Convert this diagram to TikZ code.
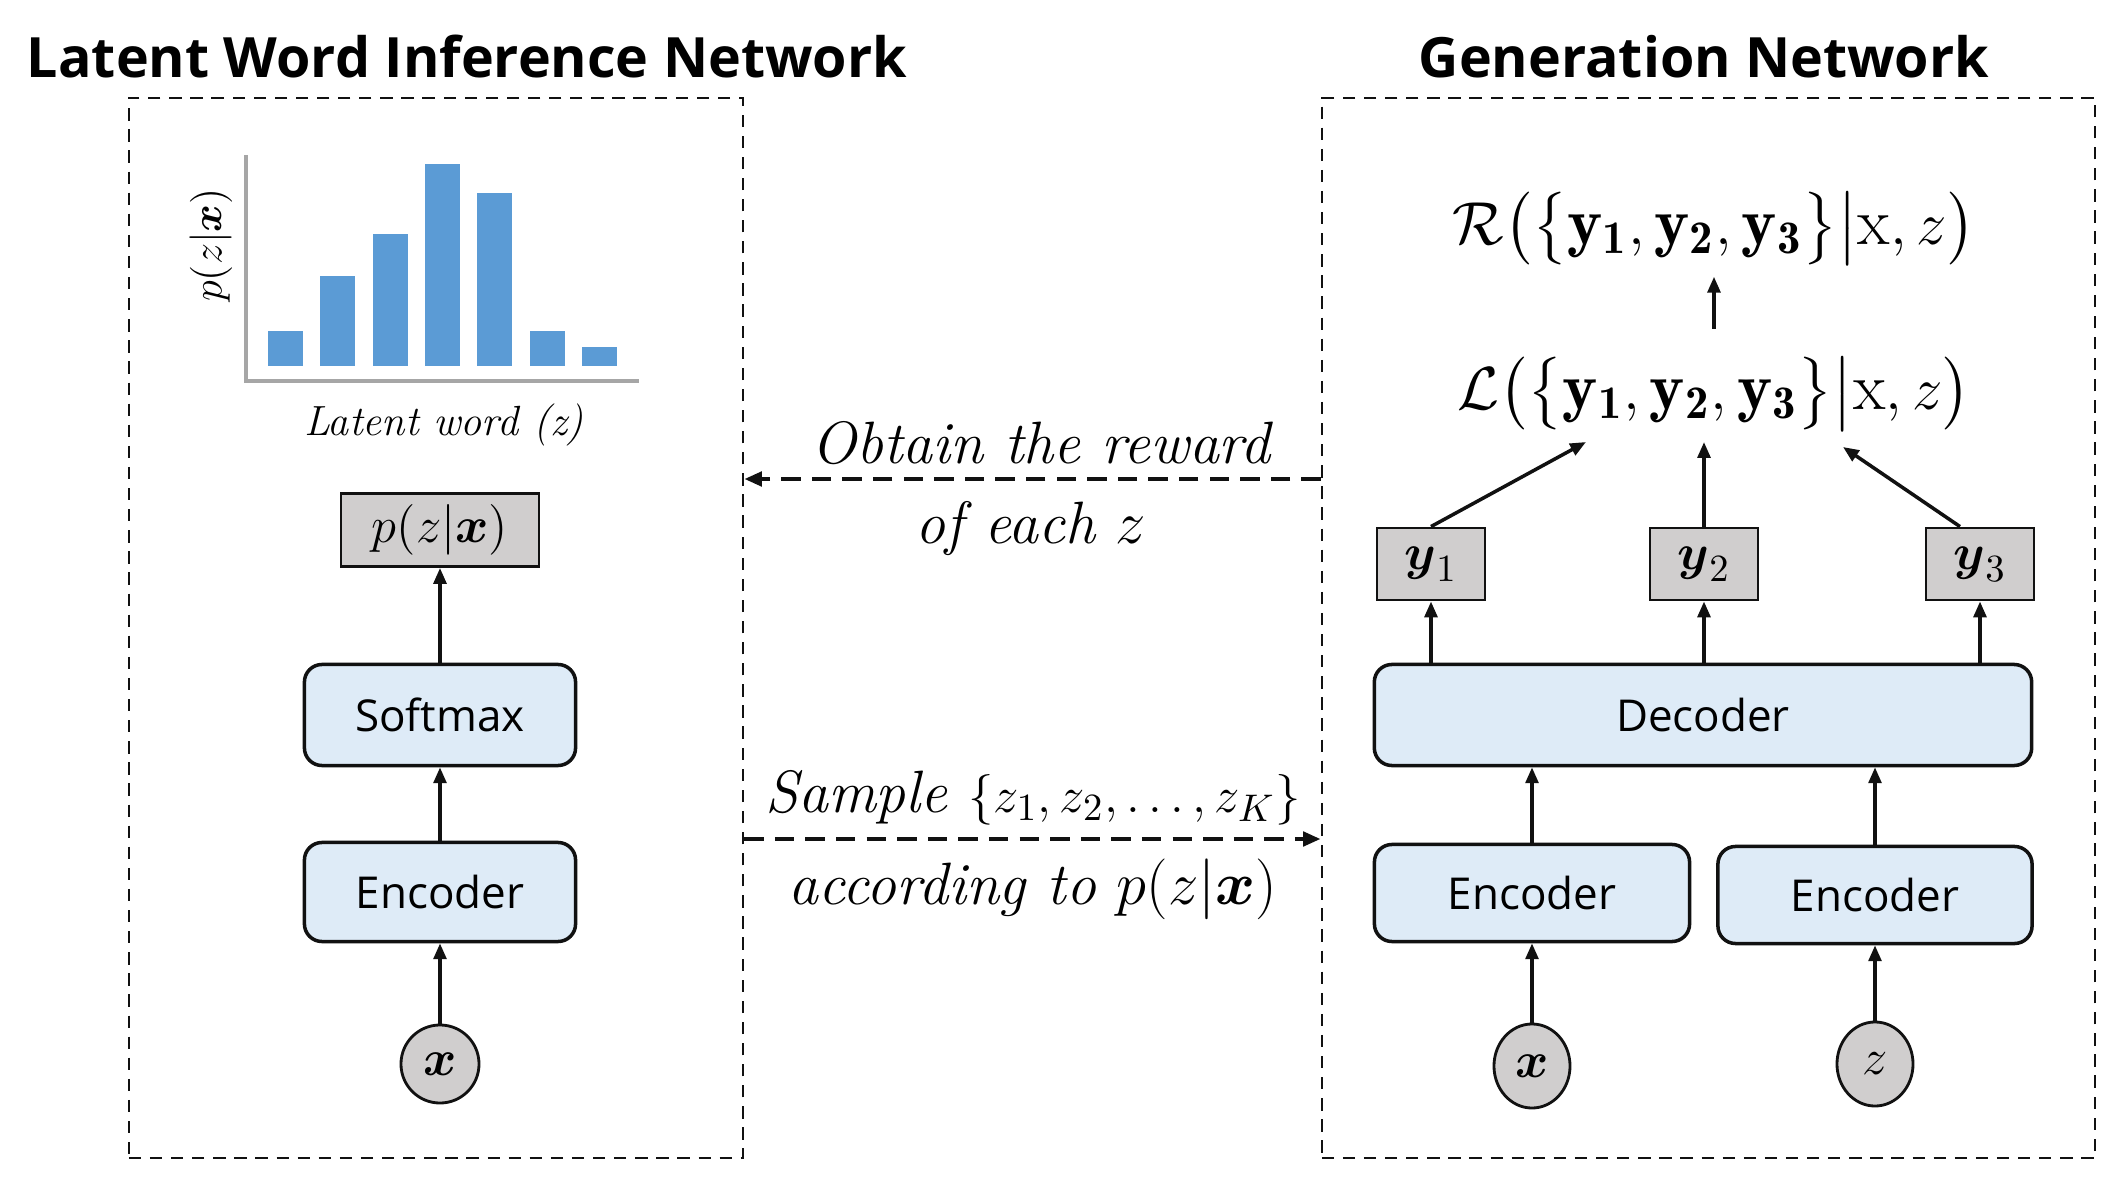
\documentclass[tikz,border=0pt]{standalone}
\usepackage{amsmath}
\usepackage{fontspec}
\setsansfont{Open Sans}
\usetikzlibrary{arrows.meta,positioning,calc,shapes.geometric}
\definecolor{wdbar}{HTML}{5B9BD5}
\definecolor{wdfill}{HTML}{DEEBF7}
\definecolor{wdgray}{HTML}{D0CECE}
\definecolor{wdaxis}{HTML}{A6A6A6}
\definecolor{wdink}{HTML}{111111}
\tikzset{
  panel/.style={draw=wdink, dash pattern=on 3.5pt off 2.5pt, line width=0.6pt, inner sep=0pt},
  ttl/.style={font=\sffamily\bfseries\fontsize{15.8}{18}\selectfont},
  blk/.style={draw=wdink, fill=wdfill, rounded corners=5pt, line width=1pt, inner sep=0pt, font=\sffamily\fontsize{12.5}{15}\selectfont},
  outb/.style={draw=wdink, fill=wdgray, line width=0.8pt, inner sep=0pt, font=\fontsize{15}{18}\selectfont},
  var/.style={draw=wdink, fill=wdgray, ellipse, line width=0.8pt, inner sep=0pt, font=\fontsize{15}{18}\selectfont},
  note/.style={font=\itshape\fontsize{17}{20}\selectfont},
  fun/.style={font=\fontsize{19}{22}\selectfont, inner sep=0pt},
  arr/.style={-{Triangle[length=4.5pt,width=3.6pt]}, line width=1pt, color=wdink},
  darr/.style={-{Triangle[length=5pt,width=4pt]}, line width=1.3pt, dash pattern=on 5.5pt off 3.2pt, color=wdink},
}
\begin{document}
\begin{tikzpicture}[x=0.01cm,y=-0.01cm]
  \useasboundingbox (0,0) rectangle (2111,1182);
  % titles and panels
  \node[ttl] (ltitle) at (467,57) {Latent Word Inference Network};
  \node[ttl] (rtitle) at (1704,57) {Generation Network};
  \node[panel, minimum width=6.14cm, minimum height=10.6cm] (lpanel) at (436,628) {};
  \node[panel, minimum width=7.73cm, minimum height=10.6cm] (rpanel) at (1708.5,628) {};
  % bar chart
  \foreach \i/\h in {0/331,1/276,2/234,3/164,4/193,5/331,6/347}
    { \fill[wdbar] (268+52.3*\i,366) rectangle (303+52.3*\i,\h); }
  \draw[wdaxis, line width=1.2pt] (246,155) -- (246,381) -- (639,381);
  \node[rotate=90, font=\fontsize{13}{15}\selectfont] (ylab) at (211,245) {$p(z|\boldsymbol{x})$};
  \node[font=\itshape\fontsize{12}{14}\selectfont] (xlab) at (444,425) {Latent word (z)};
  % inference network
  \node[outb, minimum width=1.98cm, minimum height=0.73cm] (pz) at (440,530) {$p(z|\boldsymbol{x})$};
  \node[blk, minimum width=2.71cm, minimum height=1.01cm] (soft) at (440,715) {Softmax};
  \node[blk, minimum width=2.71cm, minimum height=0.99cm] (encl) at (440,892) {Encoder};
  \node[var, minimum width=0.78cm, minimum height=0.78cm] (xl) at (440,1064) {$\boldsymbol{x}$};
  \draw[arr] (xl) -- (encl);
  \draw[arr] (encl) -- (soft);
  \draw[arr] (soft) -- (pz);
  % messages between the two networks
  \node[note] (obtain) at (1041,443) {Obtain the reward};
  \node[note] (each) at (1031,529) {of each $z$};
  \draw[darr] (rpanel.west |- 0,479) -- (lpanel.east |- 0,479);
  \node[note] (sample) at (1033,798) {Sample {\fontsize{15}{18}\selectfont$\{z_1,z_2,\ldots,z_K\}$}};
  \draw[darr] (lpanel.east |- 0,839) -- (rpanel.west |- 0,839);
  \node[note] (accord) at (1033,889) {according to $p(z|\boldsymbol{x})$};
  % generation network
  \node[fun] (rfun) at (1714,229) {$\mathcal{R}\big(\big\{\mathbf{y_1},\mathbf{y_2},\mathbf{y_3}\big\}\big|\mathrm{x},z\big)$};
  \node[fun] (lfun) at (1714,394) {$\mathcal{L}\big(\big\{\mathbf{y_1},\mathbf{y_2},\mathbf{y_3}\big\}\big|\mathrm{x},z\big)$};
  \draw[arr, shorten <=8pt, shorten >=3pt] (lfun) -- (rfun);
  \foreach \n/\x in {1/1431,2/1704,3/1980}
    { \node[outb, minimum width=1.08cm, minimum height=0.72cm] (y\n) at (\x,564) {$\boldsymbol{y}_{\n}$}; }
  \node[blk, minimum width=6.57cm, minimum height=1.01cm] (dec) at (1703,715) {Decoder};
  \foreach \n in {1,2,3}
    { \draw[arr] (dec.north -| y\n) -- (y\n); }
  \coordinate (lin1) at (1586,442);
  \coordinate (lin2) at (1704,442);
  \coordinate (lin3) at (1843,447);
  \draw[arr] (y1.north) -- (lin1);
  \draw[arr] (y2.north) -- (lin2);
  \draw[arr] ([xshift=-0.2cm]y3.north) -- (lin3);
  \node[blk, minimum width=3.15cm, minimum height=0.97cm] (encx) at (1532,893) {Encoder};
  \node[blk, minimum width=3.14cm, minimum height=0.97cm] (encz) at (1875,895) {Encoder};
  \node[var, minimum width=0.76cm, minimum height=0.84cm] (xr) at (1532,1066) {$\boldsymbol{x}$};
  \node[var, minimum width=0.76cm, minimum height=0.84cm] (zr) at (1875,1064) {$z$};
  \draw[arr] (encx) -- (encx |- dec.south);
  \draw[arr] (encz) -- (encz |- dec.south);
  \draw[arr] (xr) -- (encx);
  \draw[arr] (zr) -- (encz);
\end{tikzpicture}
\end{document}
